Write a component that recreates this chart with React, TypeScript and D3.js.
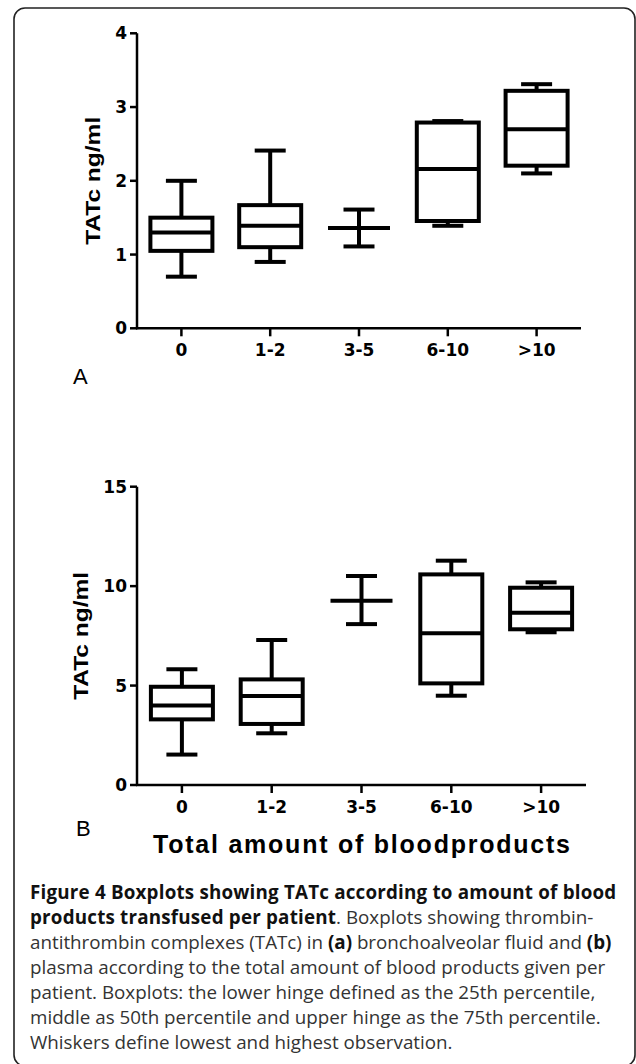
import React from "react";
import * as d3 from "d3";

const categories = ["0", "1-2", "3-5", "6-10", ">10"];

// Panel A: bronchoalveolar fluid TATc (ng/ml)
const balMin = [0.7, 0.9, 1.11, 1.39, 2.1];
const balQ1 = [1.05, 1.1, 1.36, 1.455, 2.205];
const balMedian = [1.3, 1.39, 1.36, 2.16, 2.7];
const balQ3 = [1.5, 1.67, 1.36, 2.79, 3.22];
const balMax = [2.0, 2.41, 1.61, 2.81, 3.31];
const balTicks = [0, 1, 2, 3, 4];

// Panel B: plasma TATc (ng/ml)
const plMin = [1.53, 2.6, 8.09, 4.49, 7.68];
const plQ1 = [3.3, 3.07, 9.27, 5.11, 7.83];
const plMedian = [4.0, 4.47, 9.27, 7.63, 8.66];
const plQ3 = [4.94, 5.31, 9.27, 10.59, 9.92];
const plMax = [5.82, 7.29, 10.51, 11.28, 10.19];
const plTicks = [0, 5, 10, 15];

const yLabel = "TATc ng/ml";
const xTitle = "Total amount of bloodproducts";

const tickFont = "'DejaVu Sans', 'Liberation Sans', sans-serif";
const labelFont = "'Liberation Sans', Arial, sans-serif";
const capFont = "'Open Sans', 'Noto Sans', sans-serif";

type PanelProps = {
  min: number[];
  q1: number[];
  med: number[];
  q3: number[];
  max: number[];
  ticks: number[];
  domainMax: number;
  x0: number;
  x1: number;
  yTop: number;
  yBottom: number;
  labelX: number;
  letter: string;
  letterX: number;
  letterY: number;
  xLabelY: number;
};

function Panel(p: PanelProps) {
  const x = d3.scaleBand<string>().domain(categories).range([p.x0, p.x1]).padding(0);
  const y = d3.scaleLinear().domain([0, p.domainMax]).range([p.yBottom, p.yTop]);
  const bw = 62;
  const cw = 31;
  const sw = 4;
  const yMid = (p.yTop + p.yBottom) / 2;
  return (
    <g>
      <line x1={p.x0} x2={p.x0} y1={y(p.domainMax)} y2={p.yBottom + 1} stroke="#000" strokeWidth={2.5} />
      <line x1={p.x0 - 1} x2={p.x1} y1={p.yBottom} y2={p.yBottom} stroke="#000" strokeWidth={2.5} />
      {p.ticks.map((t) => (
        <g key={"yt" + t}>
          <line x1={p.x0 - 7} x2={p.x0} y1={y(t)} y2={y(t)} stroke="#000" strokeWidth={2.5} />
          <text x={p.x0 - 10} y={y(t)} textAnchor="end" dominantBaseline="central"
            fontFamily={tickFont} fontWeight="bold" fontSize={17}>{t}</text>
        </g>
      ))}
      {categories.map((c) => {
        const cx = (x(c) as number) + x.bandwidth() / 2;
        return (
          <g key={"xt" + c}>
            <line x1={cx} x2={cx} y1={p.yBottom} y2={p.yBottom + 8} stroke="#000" strokeWidth={2.5} />
            <text x={cx} y={p.xLabelY} textAnchor="middle" dominantBaseline="central"
              fontFamily={tickFont} fontWeight="bold" fontSize={17}>{c}</text>
          </g>
        );
      })}
      {categories.map((c, i) => {
        const cx = (x(c) as number) + x.bandwidth() / 2;
        return (
          <g key={"bx" + c} stroke="#000" strokeWidth={sw} fill="none">
            <line x1={cx} x2={cx} y1={y(p.q3[i])} y2={y(p.max[i])} />
            <line x1={cx} x2={cx} y1={y(p.q1[i])} y2={y(p.min[i])} />
            <line x1={cx - cw / 2} x2={cx + cw / 2} y1={y(p.max[i])} y2={y(p.max[i])} />
            <line x1={cx - cw / 2} x2={cx + cw / 2} y1={y(p.min[i])} y2={y(p.min[i])} />
            <rect x={cx - bw / 2} y={y(p.q3[i])} width={bw} height={Math.max(0, y(p.q1[i]) - y(p.q3[i]))} />
            <line x1={cx - bw / 2} x2={cx + bw / 2} y1={y(p.med[i])} y2={y(p.med[i])} />
          </g>
        );
      })}
      <text transform={`translate(${p.labelX},${yMid}) rotate(-90)`} textAnchor="middle"
        dominantBaseline="central" fontFamily={labelFont} fontWeight="bold" fontSize={21}
        textLength={128} lengthAdjust="spacingAndGlyphs">{yLabel}</text>
      <text x={p.letterX} y={p.letterY} dominantBaseline="central" fontFamily={labelFont}
        fontSize={22}>{p.letter}</text>
    </g>
  );
}

export default function App() {
  const capLines: React.ReactNode[] = [
    <tspan fontWeight="bold" fill="#111" letterSpacing={0.2}>Figure 4 Boxplots showing TATc according to amount of blood</tspan>,
    <>
      <tspan fontWeight="bold" fill="#111" letterSpacing={0.2}>products transfused per patient</tspan>
      <tspan>. Boxplots showing thrombin-</tspan>
    </>,
    <>
      <tspan>antithrombin complexes (TATc) in </tspan>
      <tspan fontWeight="bold" fill="#111">(a)</tspan>
      <tspan> bronchoalveolar fluid and </tspan>
      <tspan fontWeight="bold" fill="#111">(b)</tspan>
    </>,
    <tspan>plasma according to the total amount of blood products given per</tspan>,
    <tspan>patient. Boxplots: the lower hinge defined as the 25th percentile,</tspan>,
    <tspan>middle as 50th percentile and upper hinge as the 75th percentile.</tspan>,
    <tspan>Whiskers define lowest and highest observation.</tspan>,
  ];
  return (
    <svg width={636} height={1064} style={{ position: "absolute", left: 0, top: 0, background: "#fff" }}>
      <rect x={0} y={0} width={636} height={1064} fill="#fff" />
      <rect x={14} y={8} width={621} height={1058} rx={11} ry={11} fill="none" stroke="#222" strokeWidth={1.6} />
      <Panel min={balMin} q1={balQ1} med={balMedian} q3={balQ3} max={balMax} ticks={balTicks}
        domainMax={4} x0={137} x1={581} yTop={33.3} yBottom={328.3} labelX={92} letter="A"
        letterX={73} letterY={376} xLabelY={350} />
      <Panel min={plMin} q1={plQ1} med={plMedian} q3={plQ3} max={plMax} ticks={plTicks}
        domainMax={15} x0={137} x1={586} yTop={486.7} yBottom={785} labelX={80} letter="B"
        letterX={76} letterY={828} xLabelY={807} />
      <text x={361.5} y={853} textAnchor="middle" fontFamily={labelFont} fontWeight="bold"
        fontSize={25} textLength={417} lengthAdjust="spacing">{xTitle}</text>
      {capLines.map((ln, i) => (
        <text key={i} x={30} y={899 + i * 25} fontFamily={capFont} fontSize={18.8} fill="#333">{ln}</text>
      ))}
    </svg>
  );
}
